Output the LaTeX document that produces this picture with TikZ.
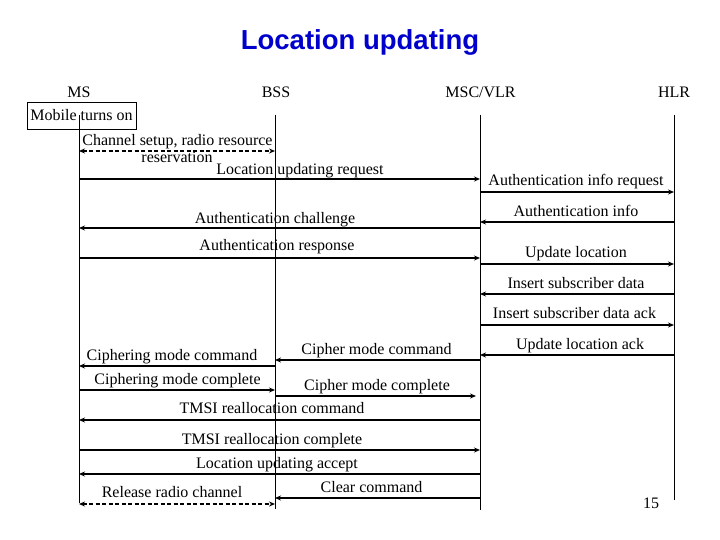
\documentclass[tikz,border=0pt]{standalone}
\usepackage{fontspec}
\setmainfont{Liberation Serif}
\newfontfamily\titlefont{Liberation Sans}
\usetikzlibrary{arrows.meta}
\definecolor{titleblue}{RGB}{0,0,204}
\begin{document}
\begin{tikzpicture}[x=1pt,y=-1pt,
  tip/.tip={Stealth[length=6pt,width=5pt]},
  msg/.style={line width=1.8pt,-tip},
  dmsg/.style={line width=1.8pt,dash pattern=on 4pt off 2.5pt,tip-tip},
  life/.style={line width=0.8pt},
  lbl/.style={font=\fontsize{16}{18}\selectfont,inner sep=0pt,anchor=base}]
\useasboundingbox[fill=white] (0,0) rectangle (720,540);

% title
\node[font=\titlefont\bfseries\fontsize{27.5}{30}\selectfont,text=titleblue,inner sep=0pt,anchor=base] (title) at (360,50) {Location updating};

% headers
\node[lbl] (hms)  at (79,98)  {MS};
\node[lbl] (hbss) at (276,98) {BSS};
\node[lbl] (hmsc) at (480.5,98) {MSC/VLR};
\node[lbl] (hhlr) at (674,98) {HLR};

% lifeline x positions
\coordinate (ms)  at (79,0);
\coordinate (bss) at (275,0);
\coordinate (msc) at (480,0);
\coordinate (hlr) at (674,0);

% start box
\node[draw,line width=0.8pt,font=\fontsize{16}{18}\selectfont,inner sep=0pt,minimum width=109pt,minimum height=27pt] (mob) at (81.5,115.5) {Mobile turns on};

% labels
\node[lbl] (l1)  at (177.5,146) {Channel setup, radio resource};
\node[lbl] (l1b) at (177,163) {reservation};
\node[lbl] (l2)  at (300,175) {Location updating request};
\node[lbl] (l3)  at (576,186) {Authentication info request};
\node[lbl] (l4)  at (576,216) {Authentication info};
\node[lbl] (l5)  at (275,223) {Authentication challenge};
\node[lbl] (l6)  at (277,251) {Authentication response};
\node[lbl] (l7)  at (576,258) {Update location};
\node[lbl] (l8)  at (576,288) {Insert subscriber data};
\node[lbl] (l9)  at (574.5,318) {Insert subscriber data ack};
\node[lbl] (l10) at (580,349) {Update location ack};
\node[lbl] (l11) at (376.5,354) {Cipher mode command};
\node[lbl] (l12) at (172,360) {Ciphering mode command};
\node[lbl] (l13) at (177.5,384) {Ciphering mode complete};
\node[lbl] (l14) at (377,390) {Cipher mode complete};
\node[lbl] (l15) at (272,413) {TMSI reallocation command};
\node[lbl] (l16) at (272,444) {TMSI reallocation complete};
\node[lbl] (l17) at (277,468) {Location updating accept};
\node[lbl] (l18) at (371.5,492) {Clear command};
\node[lbl] (l19) at (172,497) {Release radio channel};
\node[lbl] (pg)  at (651,508) {15};

% lifelines
\draw[life] (ms |- 0,115) -- (ms |- 0,503);
\draw[life] (bss |- 0,115) -- (bss |- 0,509);
\draw[life] (msc |- 0,115) -- (msc |- 0,510);
\draw[life] (hlr |- 0,115) -- (hlr |- 0,500);

% messages
\draw[dmsg] (ms |- 0,151) -- (bss |- 0,151);
\draw[msg] (ms |- 0,179) -- (msc |- 0,179);
\draw[msg] (msc |- 0,192) -- (hlr |- 0,192);
\draw[msg] (hlr |- 0,222) -- (msc |- 0,222);
\draw[msg] (msc |- 0,228) -- (ms |- 0,228);
\draw[msg] (ms |- 0,258) -- (msc |- 0,258);
\draw[msg] (msc |- 0,264) -- (hlr |- 0,264);
\draw[msg] (hlr |- 0,294) -- (msc |- 0,294);
\draw[msg] (msc |- 0,325) -- (hlr |- 0,325);
\draw[msg] (hlr |- 0,355) -- (msc |- 0,355);
\draw[msg] (msc |- 0,360) -- (bss |- 0,360);
\draw[msg] (bss |- 0,366) -- (ms |- 0,366);
\draw[msg] (ms |- 0,390) -- (bss |- 0,390);
\draw[msg,shorten >=4pt] (bss |- 0,396) -- (msc |- 0,396);
\draw[msg] (msc |- 0,420) -- (ms |- 0,420);
\draw[msg] (ms |- 0,450) -- (msc |- 0,450);
\draw[msg] (msc |- 0,474) -- (ms |- 0,474);
\draw[msg] (msc |- 0,498) -- (bss |- 0,498);
\draw[dmsg] (ms |- 0,504) -- (bss |- 0,504);
\end{tikzpicture}
\end{document}
